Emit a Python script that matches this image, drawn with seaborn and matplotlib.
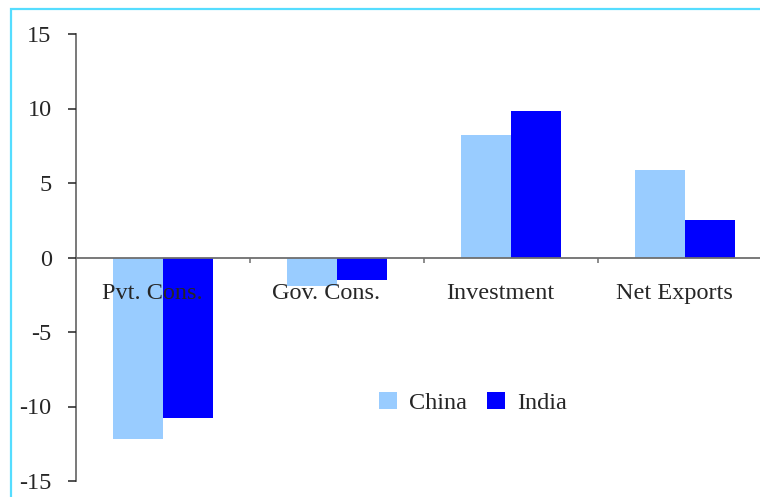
import matplotlib
matplotlib.use("Agg")
import matplotlib.pyplot as plt
import matplotlib.transforms as mtransforms
import pandas as pd
import seaborn as sns
from matplotlib.patches import Rectangle

# chart data
categories = ["Pvt. Cons.", "Gov. Cons.", "Investment", "Net Exports"]
china = [-12.2, -1.9, 8.2, 5.9]
india = [-10.8, -1.5, 9.8, 2.5]
series_names = ["China", "India"]
y_ticks = [-15, -10, -5, 0, 5, 10, 15]

df = pd.DataFrame({
    "component": categories * 2,
    "value": china + india,
    "country": [series_names[0]] * len(categories) + [series_names[1]] * len(categories),
})

sns.set_theme(style="white")
plt.rcParams["font.family"] = ["Liberation Serif", "DejaVu Serif"]
plt.rcParams["axes.unicode_minus"] = False
fsize = 17.5

fig = plt.figure(figsize=(7.6, 4.97), dpi=100)
ax = fig.add_axes([76 / 760, 16 / 497, 696 / 760, 447 / 497])

sns.barplot(data=df, x="component", y="value", hue="country", order=categories,
            hue_order=series_names, palette=["#99CCFF", "#0000FF"],
            width=0.57, saturation=1, linewidth=0, ax=ax, legend=True)

ax.set_xlim(-0.5, 3.5)
ax.set_ylim(-15, 15)
ax.set_xlabel("")
ax.set_ylabel("")
ax.set_axisbelow(False)  # category labels and zero line sit on top of the bars

# axes styling
axis_col = "#6e6e6e"
for s in ["top", "right"]:
    ax.spines[s].set_visible(False)
ax.spines["bottom"].set_position(("data", 0))
ax.spines["bottom"].set_color(axis_col)
ax.spines["left"].set_color(axis_col)
ax.spines["bottom"].set_linewidth(1.3)
ax.spines["left"].set_linewidth(1.3)

ax.set_yticks(y_ticks)
ax.set_yticklabels([str(t) for t in y_ticks])
ax.tick_params(axis="y", direction="out", length=6, width=1.1, color="#222222",
               pad=11.5, labelsize=fsize, left=True)
ax.set_xticks(range(len(categories)))
ax.set_xticklabels(categories)
ax.tick_params(axis="x", which="major", length=0, pad=18.5, labelsize=fsize)
ax.set_xticks([0.5, 1.5, 2.5], minor=True)
ax.tick_params(axis="x", which="minor", direction="out", length=3.5, width=1.1,
               color=axis_col, bottom=True)

# category labels sit a little left of the group centre in the original
shift = mtransforms.ScaledTranslation(-11 / 100, 0, fig.dpi_scale_trans)
for lab in ax.get_xticklabels():
    lab.set_transform(lab.get_transform() + shift)

# legend
handles, labels = ax.get_legend_handles_labels()
ax.get_legend().remove()
fig.legend(handles, labels, loc="center", bbox_to_anchor=(473 / 760, 1 - 403 / 497),
           ncol=2, frameon=False, fontsize=fsize, handlelength=0.72, handleheight=0.7,
           handletextpad=0.5, columnspacing=0.85)

# light cyan frame around the chart area
fig.patches.append(Rectangle((10.5 / 760, -0.1), 1.2, (497 - 8.5) / 497 + 0.1,
                             transform=fig.transFigure, fill=False,
                             edgecolor="#55DDFF", linewidth=1.6, zorder=0))

fig.savefig("out.png", dpi=100)
